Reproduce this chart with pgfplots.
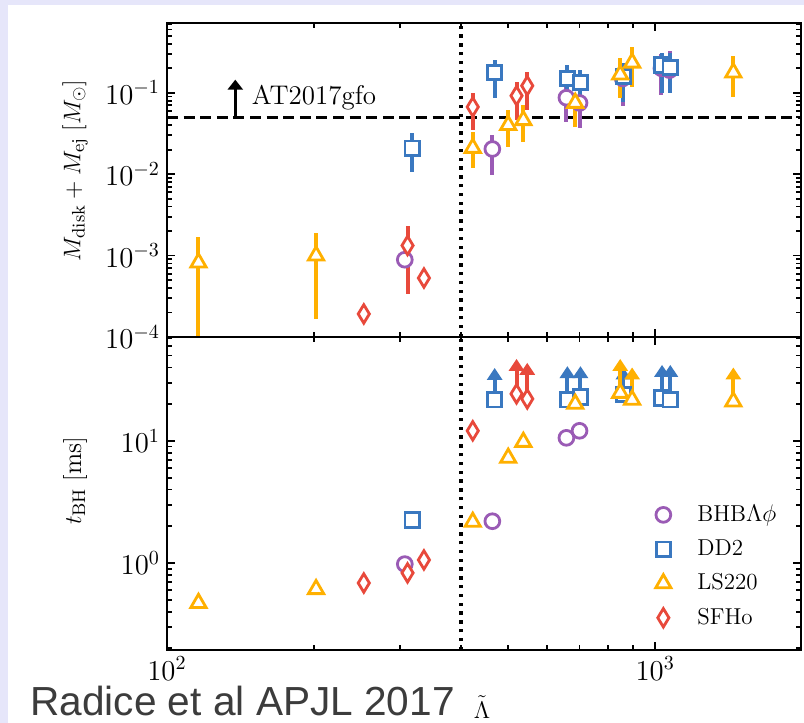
\documentclass[border=0pt]{standalone}
\usepackage{pgfplots}
\pgfplotsset{compat=1.18}
\usepackage{pgfplotstable}
\usepackage{fontspec}
\newfontfamily\slidefont{Liberation Sans}
\usetikzlibrary{arrows.meta}

\definecolor{cBHB}{HTML}{9A5BB5}
\definecolor{cDD}{HTML}{3A78C0}
\definecolor{cLS}{HTML}{FFB000}
\definecolor{cSF}{HTML}{E8493B}
\definecolor{slidebg}{HTML}{E6E6FA}
\definecolor{slidetext}{HTML}{3C3C3C}

% ---------- top panel: M_disk + M_ej (x, value, lower, upper)
\pgfplotstableread{
x y lo hi
307 0.00089 0.00089 0.00089
464 0.0204 0.0098 0.030
658 0.087 0.044 0.117
700 0.075 0.037 0.100
858 0.150 0.068 0.220
1030 0.200 0.095 0.300
1070 0.190 0.100 0.330
}\mBHB
\pgfplotstableread{
x y lo hi
318 0.0209 0.0106 0.032
469 0.177 0.087 0.255
661 0.149 0.087 0.220
703 0.133 0.075 0.190
861 0.158 0.077 0.230
1033 0.220 0.100 0.310
1074 0.204 0.100 0.310
}\mDD
\pgfplotstableread{
x y lo hi
116 0.00082 0.00005 0.0017
202 0.00100 0.000167 0.0019
423 0.021 0.0119 0.033
500 0.040 0.0216 0.061
537 0.046 0.025 0.071
686 0.075 0.038 0.097
848 0.167 0.087 0.270
897 0.234 0.117 0.360
1446 0.177 0.090 0.280
}\mLS
\pgfplotstableread{
x y lo hi
253 0.000192 0.000192 0.000192
311 0.00133 0.00034 0.00234
336 0.00053 0.00053 0.00053
423 0.067 0.035 0.100
520 0.092 0.046 0.137
547 0.122 0.061 0.180
}\mSF

% ---------- bottom panel: t_BH [ms]
\pgfplotstableread{
x y
307 0.98
464 2.2
658 10.6
700 12.1
}\tBHB
\pgfplotstableread{
x y
318 2.25
469 21.7
661 21.7
703 22.9
861 24.0
1033 22.5
1074 21.7
}\tDD
\pgfplotstableread{
x y
116 0.47
202 0.61
423 2.17
500 7.26
537 9.8
686 20.1
848 24.7
897 21.7
1446 21.0
}\tLS
\pgfplotstableread{
x y
253 0.686
311 0.83
336 1.06
423 12.1
520 24.3
547 22.1
}\tSF

\pgfplotsset{
  mystyleBHB/.style={color=cBHB, only marks, mark=*, mark size=3.7pt, mark options={fill=white, line width=1.4pt, solid}},
  mystyleDD/.style={color=cDD, only marks, mark=square*, mark size=3.6pt, mark options={fill=white, line width=1.4pt, solid}},
  mystyleLS/.style={color=cLS, only marks, mark=triangle*, mark size=4.4pt, mark options={fill=white, line width=1.4pt, solid}},
  mystyleSF/.style={color=cSF, only marks, mark=diamond*, mark size=4.6pt, mark options={fill=white, line width=1.4pt, solid, xscale=0.81}},
}

\begin{document}
\begin{tikzpicture}
\useasboundingbox (0,0) rectangle (402pt,361.5pt);
\fill[slidebg] (0,0) rectangle (402pt,361.5pt);
\fill[white] (4pt,0) rectangle (402pt,359pt);

% ================= top panel
\begin{axis}[at={(83.5pt,193pt)}, anchor=south west,
  width=317pt, height=157pt, scale only axis,
  xmode=log, ymode=log, xmin=100, xmax=1990,
  ymin=1e-4, ymax=0.72,
  xtick={100,1000}, minor xtick={200,300,400,500,600,700,800,900},
  xticklabels={},
  axis line style={line width=1.2pt},
  tick align=inside,
  major tick length=4pt, minor tick length=2.5pt,
  tick style={black, line width=0.9pt},
  tick label style={font=\fontsize{14}{16}\selectfont},
  label style={font=\fontsize{13}{15}\selectfont},
  ylabel={$M_{\rm disk}+M_{\rm ej}\;[M_\odot]$},
  ylabel style={at={(axis description cs:-0.145,0.53)}, anchor=center},
]
\addplot[black, line width=1.5pt, dash pattern=on 5.5pt off 2.8pt] coordinates {(100,0.05) (1990,0.05)};
\addplot[black, line width=1.7pt, dash pattern=on 1.7pt off 2.7pt] coordinates {(400,1e-4) (400,0.72)};
\addplot[black, line width=1.7pt, -{Triangle[width=7.5pt,length=5pt]}] coordinates {(138,0.05) (138,0.145)};
\node[anchor=base west, inner sep=0pt, font=\fontsize{13.5}{15}\selectfont] at (axis cs:149,0.0712) {AT2017gfo};

\addplot[mystyleBHB, error bars/.cd, y dir=both, y explicit, error mark=none, error bar style={line width=2pt}]
  table[x=x, y=y, y error plus expr=\thisrow{hi}-\thisrow{y}, y error minus expr=\thisrow{y}-\thisrow{lo}] {\mBHB};
\addplot[mystyleDD, error bars/.cd, y dir=both, y explicit, error mark=none, error bar style={line width=2pt}]
  table[x=x, y=y, y error plus expr=\thisrow{hi}-\thisrow{y}, y error minus expr=\thisrow{y}-\thisrow{lo}] {\mDD};
\addplot[mystyleSF, error bars/.cd, y dir=both, y explicit, error mark=none, error bar style={line width=2pt}]
  table[x=x, y=y, y error plus expr=\thisrow{hi}-\thisrow{y}, y error minus expr=\thisrow{y}-\thisrow{lo}] {\mSF};
\addplot[mystyleLS, error bars/.cd, y dir=both, y explicit, error mark=none, error bar style={line width=2pt}]
  table[x=x, y=y, y error plus expr=\thisrow{hi}-\thisrow{y}, y error minus expr=\thisrow{y}-\thisrow{lo}] {\mLS};
\end{axis}

% ================= bottom panel
\begin{axis}[at={(83.5pt,36.5pt)}, anchor=south west,
  width=317pt, height=156.5pt, scale only axis,
  xmode=log, ymode=log, xmin=100, xmax=1990,
  ymin=0.194, ymax=71,
  xtick={100,1000}, minor xtick={200,300,400,500,600,700,800,900},
  axis line style={line width=1.2pt},
  tick align=inside,
  major tick length=4pt, minor tick length=2.5pt,
  tick style={black, line width=0.9pt},
  tick label style={font=\fontsize{14}{16}\selectfont},
  label style={font=\fontsize{13}{15}\selectfont},
  ylabel={$t_{\rm BH}\;[{\rm ms}]$},
  ylabel style={at={(axis description cs:-0.145,0.54)}, anchor=center},
  xlabel={$\tilde{\Lambda}$},
  xlabel style={at={(axis description cs:0.497,0)}, anchor=base, inner sep=0pt, yshift=-34pt, font=\fontsize{12}{14}\selectfont},
  legend style={at={(axis description cs:0.757,0.49)}, anchor=north west, draw=none, fill=none,
    font=\fontsize{11.5}{13.5}\selectfont, row sep=3.6pt},
  legend cell align=left,
  legend image code/.code={\path[draw=none, fill=none] (0pt,0pt) -- (20pt,0pt); \draw[mark repeat=2,mark phase=2,#1] plot coordinates {(0pt,0pt)(5pt,0pt)(10pt,0pt)};},
]
\addlegendimage{mystyleBHB}
\addlegendimage{mystyleDD}
\addlegendimage{mystyleLS}
\addlegendimage{mystyleSF}
\legend{BHB$\Lambda\phi$, DD2, LS220, SFHo}

\addplot[black, line width=1.7pt, dash pattern=on 1.7pt off 2.7pt] coordinates {(400,0.194) (400,71)};

% lower limits (arrows)
\addplot[cDD, line width=2pt, -{Triangle[width=7.5pt,length=6pt]}] coordinates {(469,21.7) (469,39.6)};
\addplot[cDD, line width=2pt, -{Triangle[width=7.5pt,length=6pt]}] coordinates {(661,21.7) (661,41)};
\addplot[cDD, line width=2pt, -{Triangle[width=7.5pt,length=6pt]}] coordinates {(703,22.9) (703,41)};
\addplot[cDD, line width=2pt, -{Triangle[width=7.5pt,length=6pt]}] coordinates {(861,24.0) (861,40)};
\addplot[cDD, line width=2pt, -{Triangle[width=7.5pt,length=6pt]}] coordinates {(1033,22.5) (1033,42)};
\addplot[cDD, line width=2pt, -{Triangle[width=7.5pt,length=6pt]}] coordinates {(1074,21.7) (1074,42)};
\addplot[cSF, line width=2pt, -{Triangle[width=7.5pt,length=6pt]}] coordinates {(520,24.3) (520,47)};
\addplot[cSF, line width=2pt, -{Triangle[width=7.5pt,length=6pt]}] coordinates {(547,22.1) (547,43.6)};
\addplot[cLS, line width=2pt, -{Triangle[width=7.5pt,length=6pt]}] coordinates {(848,24.7) (848,47)};
\addplot[cLS, line width=2pt, -{Triangle[width=7.5pt,length=6pt]}] coordinates {(897,21.7) (897,40)};
\addplot[cLS, line width=2pt, -{Triangle[width=7.5pt,length=6pt]}] coordinates {(1446,21.0) (1446,40)};

\addplot[mystyleBHB] table[x=x, y=y] {\tBHB};
\addplot[mystyleDD] table[x=x, y=y] {\tDD};
\addplot[mystyleSF] table[x=x, y=y] {\tSF};
\addplot[mystyleLS] table[x=x, y=y] {\tLS};
\end{axis}

\node[anchor=base west, inner sep=0pt, font=\slidefont\fontsize{20.3}{24}\selectfont, text=slidetext] at (15pt,3.5pt) {Radice et al APJL 2017};
\end{tikzpicture}
\end{document}
